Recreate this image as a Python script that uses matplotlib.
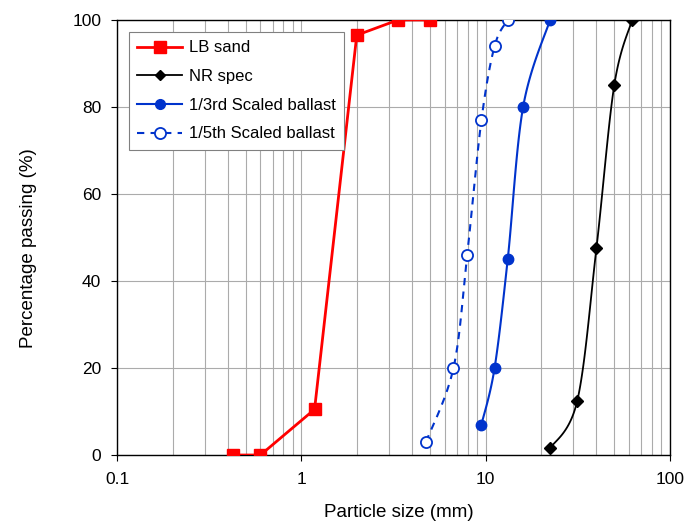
import numpy as np
import matplotlib
matplotlib.use("Agg")
import matplotlib.pyplot as plt
from matplotlib.ticker import LogLocator, FixedLocator, NullFormatter

plt.rcParams['font.family'] = ['Liberation Sans', 'DejaVu Sans']

# sieve data
lb_size = [0.425, 0.6, 1.18, 2.0, 3.35, 5.0]
lb_pass = [0, 0, 10.5, 96.5, 100, 100]

nr_size = [22.4, 31.5, 40, 50, 62.5]
nr_pass = [1.5, 12.5, 47.5, 85, 100]

third_size = [9.5, 11.2, 13.2, 16, 22.4]
third_pass = [7, 20, 45, 80, 100]

fifth_size = [4.75, 6.7, 7.95, 9.5, 11.2, 13.2]
fifth_pass = [3, 20, 46, 77, 94, 100]


def smooth(xs, ys, n=30):
    # excel style smoothed line: catmull-rom in log-x space, end points doubled
    lx = np.log10(np.asarray(xs, float))
    y = np.asarray(ys, float)
    px = np.concatenate([[lx[0]], lx, [lx[-1]]])
    py = np.concatenate([[y[0]], y, [y[-1]]])
    outx, outy = [], []
    t = np.linspace(0, 1, n)
    for i in range(1, len(px) - 2):
        p0, p1, p2, p3 = px[i - 1:i + 3]
        q0, q1, q2, q3 = py[i - 1:i + 3]
        cx = 0.5 * ((2 * p1) + (-p0 + p2) * t + (2 * p0 - 5 * p1 + 4 * p2 - p3) * t**2 + (-p0 + 3 * p1 - 3 * p2 + p3) * t**3)
        cy = 0.5 * ((2 * q1) + (-q0 + q2) * t + (2 * q0 - 5 * q1 + 4 * q2 - q3) * t**2 + (-q0 + 3 * q1 - 3 * q2 + q3) * t**3)
        outx.extend(cx)
        outy.extend(cy)
    return 10 ** np.array(outx), np.array(outy)


fig = plt.figure(figsize=(6.89, 5.25), dpi=100)
ax = fig.add_axes([0.170, 0.1333, 0.802, 0.8287])

red = '#FF0000'
blue = '#0033CC'

ax.plot(lb_size, lb_pass, color=red, lw=2, marker='s', ms=8.5, label='LB sand', zorder=5)

sx, sy = smooth(nr_size, nr_pass)
ax.plot(sx, sy, color='black', lw=1.3, zorder=4)
ax.plot(nr_size, nr_pass, ls='none', color='black', marker='D', ms=6, zorder=5)
ax.plot([], [], color='black', lw=1.3, marker='D', ms=5, label='NR spec')

sx, sy = smooth(third_size, third_pass)
ax.plot(sx, sy, color=blue, lw=1.5, zorder=4)
ax.plot(third_size, third_pass, ls='none', color=blue, marker='o', ms=7.5, zorder=5)
ax.plot([], [], color=blue, lw=1.5, marker='o', ms=7, label='1/3rd Scaled ballast')

sx, sy = smooth(fifth_size, fifth_pass)
ax.plot(sx, sy, color=blue, lw=1.5, ls=(0, (3.5, 3)), zorder=4)
ax.plot(fifth_size, fifth_pass, ls='none', color=blue, marker='o', ms=8,
        mfc='white', mec=blue, mew=1.3, zorder=5)
ax.plot([], [], color=blue, lw=1.5, ls=(0, (3.5, 3)), marker='o', ms=8,
        mfc='white', mec=blue, mew=1.3, label='1/5th Scaled ballast')

ax.set_xscale('log')
ax.set_xlim(0.1, 100)
ax.set_ylim(0, 100)
ax.set_yticks([0, 20, 40, 60, 80, 100])
ax.xaxis.set_major_locator(FixedLocator([0.1, 1, 10, 100]))
ax.set_xticklabels(['0.1', '1', '10', '100'])
ax.xaxis.set_minor_locator(LogLocator(base=10, subs=np.arange(2, 10)))
ax.xaxis.set_minor_formatter(NullFormatter())

ax.grid(True, which='both', axis='x', color='#ABABAB', lw=0.8)
ax.grid(True, which='major', axis='y', color='#ABABAB', lw=0.8)
ax.set_axisbelow(True)

for s in ax.spines.values():
    s.set_color('black')
    s.set_linewidth(1.0)

ax.tick_params(which='major', direction='out', length=4.5, labelsize=12.5, colors='black')
ax.tick_params(axis='x', which='major', pad=7.5)
ax.tick_params(axis='y', which='major', pad=7)
ax.tick_params(which='minor', length=0)

ax.set_xlabel('Particle size (mm)', fontsize=13.5)
ax.set_ylabel('Percentage passing (%)', fontsize=13.5)
ax.xaxis.set_label_coords(0.51, -0.113)
ax.yaxis.set_label_coords(-0.145, 0.476)

leg = ax.legend(loc='upper left', bbox_to_anchor=(0.0217, 0.972), borderaxespad=0,
                fontsize=12, frameon=True, fancybox=False, edgecolor='#808080',
                framealpha=1, handlelength=2.7, handletextpad=0.4,
                borderpad=0.5, labelspacing=0.82)
leg.get_frame().set_linewidth(0.8)

fig.savefig('out.png', dpi=100)
